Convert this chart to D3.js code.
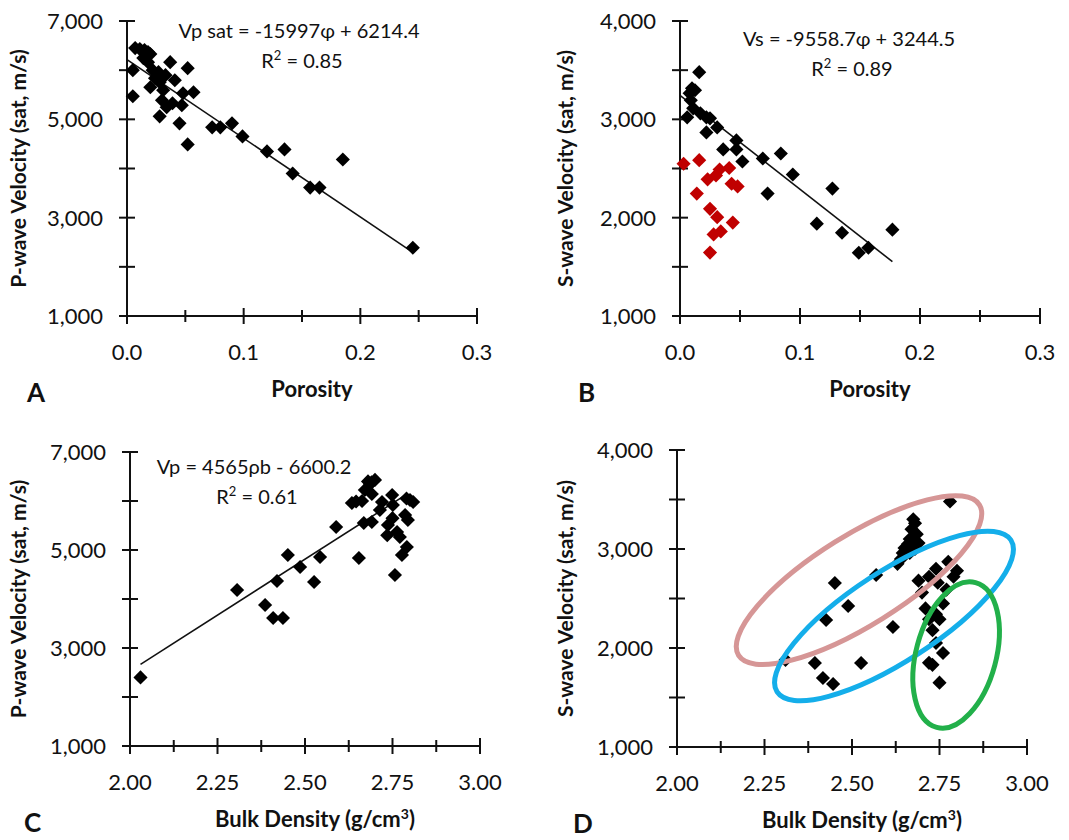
<!DOCTYPE html>
<html>
<head>
<meta charset="utf-8">
<script src="https://cdn.jsdelivr.net/npm/d3@7"></script>
<style>
  body { margin: 0; background: #fff; }
  svg text { font-family: Lato, "Open Sans", sans-serif; fill: #111; }
</style>
</head>
<body>
<div id="chart"></div>
<script>
// panel A: porosity vs Vp
var porA = [0.007,0.011,0.015,0.018,0.020,0.005,0.005,0.018,0.022,0.027,0.037,0.052,0.020,0.028,0.031,0.030,0.034,0.039,0.028,0.047,0.048,0.057,0.045,0.052,0.073,0.080,0.090,0.099,0.120,0.135,0.142,0.157,0.165,0.185,0.245,0.014,0.033,0.041,0.024];
var vpA  = [6449,6429,6408,6367,6327,6000,5469,6163,6000,5959,6163,6041,5653,5755,5592,5388,5245,5327,5061,5286,5531,5551,4918,4490,4837,4837,4918,4653,4347,4388,3898,3612,3612,4184,2388,6245,5898,5796,5837];

// panel B: porosity vs Vs (black and red groups)
var porB = [0.016,0.010,0.0125,0.008,0.009,0.006,0.011,0.017,0.022,0.025,0.031,0.022,0.036,0.047,0.047,0.052,0.069,0.084,0.094,0.073,0.127,0.114,0.135,0.149,0.157,0.177];
var vsB  = [3480,3316,3296,3265,3194,3020,3112,3061,3020,3010,2918,2867,2694,2786,2694,2571,2602,2653,2439,2245,2296,1939,1847,1643,1694,1878];
var porBred = [0.003,0.016,0.014,0.023,0.030,0.033,0.041,0.043,0.048,0.025,0.031,0.044,0.028,0.034,0.025];
var vsBred  = [2548,2585,2245,2390,2430,2490,2505,2345,2318,2090,2005,1950,1830,1860,1645];

// panel C: bulk density vs Vp
var rhoC = [2.03,2.306,2.386,2.409,2.437,2.420,2.451,2.486,2.526,2.543,2.589,2.654,2.634,2.646,2.663,2.671,2.686,2.70,2.69,2.68,2.691,2.72,2.714,2.737,2.749,2.751,2.763,2.771,2.786,2.794,2.809,2.80,2.791,2.777,2.757,2.691,2.668,2.735,2.75,2.79];
var vpC  = [2400,4184,3878,3612,3612,4367,4898,4653,4347,4857,5470,4837,5960,5990,6000,6225,6347,6430,6380,6400,6143,5980,5816,5510,6122,5918,5367,5265,5714,5612,5980,6020,5061,4898,4490,5571,5550,5300,5650,6050];

// panel D: bulk density vs Vs
var rhoD = [2.31,2.394,2.417,2.446,2.426,2.451,2.489,2.526,2.569,2.617,2.63,2.64,2.645,2.65,2.655,2.66,2.665,2.67,2.675,2.68,2.685,2.69,2.665,2.68,2.78,2.69,2.70,2.72,2.74,2.745,2.76,2.77,2.79,2.80,2.775,2.71,2.72,2.73,2.74,2.76,2.72,2.73,2.75,2.74,2.75];
var vsD  = [1880,1848,1697,1636,2283,2657,2424,1848,2737,2212,2850,2900,2960,3010,2990,3050,3100,3200,3300,3260,3150,3060,2960,3000,3480,2680,2560,2720,2800,2660,2450,2590,2720,2780,2870,2400,2290,2180,2050,1950,1850,1830,1650,2340,2290];

// trend lines [x0, x1]
var fitA = { slope: -15997, icpt: 6214.4, from: 0, to: 0.245 };
var fitB = { slope: -9558.7, icpt: 3244.5, from: 0, to: 0.177 };
var fitC = { slope: 4565, icpt: -6600.2, from: 2.03, to: 2.78 };

// ellipses in panel D: two end points (density, Vs)
var ellD = [
  { color: "#d69696", p0: [2.176, 1925], p1: [2.864, 3446], half: 45 },
  { color: "#14aeea", p0: [2.286, 1556], p1: [2.954, 3091], half: 45 },
  { color: "#22b04a", p0: [2.742, 1198], p1: [2.853, 2661], half: 40 }
];

var svg = d3.select("#chart").append("svg")
  .attr("width", 1069).attr("height", 840);

var fmt = d3.format(",");

function panel(cfg) {
  var x = d3.scaleLinear().domain(cfg.xd).range(cfg.xr);
  var y = d3.scaleLinear().domain(cfg.yd).range(cfg.yr);
  var g = svg.append("g");

  // x axis
  g.append("line").attr("x1", x(cfg.xd[0])).attr("x2", x(cfg.xd[1]))
    .attr("y1", y(cfg.yd[0])).attr("y2", y(cfg.yd[0]))
    .attr("stroke", "#111").attr("stroke-width", 2);
  var xt = d3.range(cfg.xd[0], cfg.xd[1] + 1e-9, cfg.xminor);
  g.selectAll(".xt").data(xt).enter().append("line")
    .attr("x1", d => x(d)).attr("x2", d => x(d))
    .attr("y1", (d, i) => y(cfg.yd[0]) - (i % 2 ? 6 : 8))
    .attr("y2", (d, i) => y(cfg.yd[0]) + (i % 2 ? 6 : 8))
    .attr("stroke", "#111").attr("stroke-width", 2);
  g.selectAll(".xl").data(cfg.xlabels).enter().append("text")
    .attr("x", d => x(+d)).attr("y", y(cfg.yd[0]) + 44)
    .attr("text-anchor", "middle").attr("font-size", 22).text(d => d);

  // y axis
  g.append("line").attr("x1", x(cfg.xd[0])).attr("x2", x(cfg.xd[0]))
    .attr("y1", y(cfg.yd[0])).attr("y2", y(cfg.yd[1]))
    .attr("stroke", "#111").attr("stroke-width", 2);
  var yt = d3.range(cfg.yd[0], cfg.yd[1] + 1, cfg.yminor);
  g.selectAll(".yt").data(yt).enter().append("line")
    .attr("x1", x(cfg.xd[0]) - 8).attr("x2", x(cfg.xd[0]) + 8)
    .attr("y1", d => y(d)).attr("y2", d => y(d))
    .attr("stroke", "#111").attr("stroke-width", 2);
  g.selectAll(".yl").data(cfg.ylabels).enter().append("text")
    .attr("x", x(cfg.xd[0]) - 24).attr("y", d => y(d) + 8)
    .attr("text-anchor", "end").attr("font-size", 22).text(d => fmt(d));

  // titles
  g.append("text").attr("x", (cfg.xr[0] + cfg.xr[1]) / 2 + 10).attr("y", y(cfg.yd[0]) + 81)
    .attr("text-anchor", "middle").attr("font-size", 22).attr("font-weight", "bold")
    .html(cfg.xtitle);
  g.append("text")
    .attr("transform", "translate(" + cfg.ytx + "," + ((cfg.yr[0] + cfg.yr[1]) / 2) + ") rotate(-90)")
    .attr("text-anchor", "middle").attr("font-size", 21).attr("font-weight", "bold")
    .text(cfg.ytitle);
  g.append("text").attr("x", cfg.lx).attr("y", y(cfg.yd[0]) + 86)
    .attr("font-size", 26).attr("font-weight", "bold").text(cfg.letter);

  // trend line
  if (cfg.fit) {
    var f = cfg.fit;
    g.append("line")
      .attr("x1", x(f.from)).attr("y1", y(f.slope * f.from + f.icpt))
      .attr("x2", x(f.to)).attr("y2", y(f.slope * f.to + f.icpt))
      .attr("stroke", "#111").attr("stroke-width", 1.6);
  }

  // points
  cfg.series.forEach(function (s) {
    g.selectAll(null).data(s.xs).enter().append("rect")
      .attr("x", -5).attr("y", -5).attr("width", 10).attr("height", 10)
      .attr("transform", (d, i) => "translate(" + x(d) + "," + y(s.ys[i]) + ") rotate(45)")
      .attr("fill", s.color);
  });

  // equation
  if (cfg.eq) {
    g.append("text").attr("x", cfg.eq.x).attr("y", cfg.eq.y)
      .attr("text-anchor", "middle").attr("font-size", 20).text(cfg.eq.t1);
    g.append("text").attr("x", cfg.eq.x + 3).attr("y", cfg.eq.y + 30)
      .attr("text-anchor", "middle").attr("font-size", 20).html(cfg.eq.t2);
  }

  // ellipses
  if (cfg.ellipses) {
    cfg.ellipses.forEach(function (e) {
      var ax = x(e.p0[0]), ay = y(e.p0[1]), bx = x(e.p1[0]), by = y(e.p1[1]);
      var cx = (ax + bx) / 2, cy = (ay + by) / 2;
      var rx = Math.hypot(bx - ax, by - ay) / 2;
      var ang = Math.atan2(by - ay, bx - ax) * 180 / Math.PI;
      g.append("ellipse").attr("cx", 0).attr("cy", 0)
        .attr("rx", rx).attr("ry", e.half)
        .attr("transform", "translate(" + cx + "," + cy + ") rotate(" + ang + ")")
        .attr("fill", "none").attr("stroke", e.color).attr("stroke-width", 5);
    });
  }
}

var sup2 = "R<tspan dy='-8' font-size='13'>2</tspan><tspan dy='8'> = ";

panel({
  xd: [0, 0.3], xr: [127, 477], yd: [1000, 7000], yr: [316, 21],
  xminor: 0.05, yminor: 1000,
  xlabels: ["0.0", "0.1", "0.2", "0.3"], ylabels: [1000, 3000, 5000, 7000],
  xtitle: "Porosity", ytitle: "P-wave Velocity (sat, m/s)", ytx: 26, lx: 27, letter: "A",
  fit: fitA,
  series: [{ xs: porA, ys: vpA, color: "#000" }],
  eq: { x: 299, y: 38, t1: "Vp sat = -15997\u03c6 + 6214.4", t2: sup2 + "0.85</tspan>" }
});

panel({
  xd: [0, 0.3], xr: [680, 1040], yd: [1000, 4000], yr: [316, 21],
  xminor: 0.05, yminor: 500,
  xlabels: ["0.0", "0.1", "0.2", "0.3"], ylabels: [1000, 2000, 3000, 4000],
  xtitle: "Porosity", ytitle: "S-wave Velocity (sat, m/s)", ytx: 573, lx: 578, letter: "B",
  fit: fitB,
  series: [{ xs: porB, ys: vsB, color: "#000" }, { xs: porBred, ys: vsBred, color: "#c00000" }],
  eq: { x: 849, y: 46, t1: "Vs = -9558.7\u03c6 + 3244.5", t2: sup2 + "0.89</tspan>" }
});

panel({
  xd: [2, 3], xr: [130, 480], yd: [1000, 7000], yr: [746, 452],
  xminor: 0.125, yminor: 1000,
  xlabels: ["2.00", "2.25", "2.50", "2.75", "3.00"], ylabels: [1000, 3000, 5000, 7000],
  xtitle: "Bulk Density (g/cm<tspan dy='-8' font-size='14'>3</tspan><tspan dy='8'>)</tspan>",
  ytitle: "P-wave Velocity (sat, m/s)", ytx: 26, lx: 24, letter: "C",
  fit: fitC,
  series: [{ xs: rhoC, ys: vpC, color: "#000" }],
  eq: { x: 254, y: 474, t1: "Vp = 4565\u03c1b - 6600.2", t2: sup2 + "0.61</tspan>" }
});

panel({
  xd: [2, 3], xr: [677, 1027], yd: [1000, 4000], yr: [747, 450],
  xminor: 0.125, yminor: 500,
  xlabels: ["2.00", "2.25", "2.50", "2.75", "3.00"], ylabels: [1000, 2000, 3000, 4000],
  xtitle: "Bulk Density (g/cm<tspan dy='-8' font-size='14'>3</tspan><tspan dy='8'>)</tspan>",
  ytitle: "S-wave Velocity (sat, m/s)", ytx: 573, lx: 573, letter: "D",
  series: [{ xs: rhoD, ys: vsD, color: "#000" }],
  ellipses: ellD
});
</script>
</body>
</html>
